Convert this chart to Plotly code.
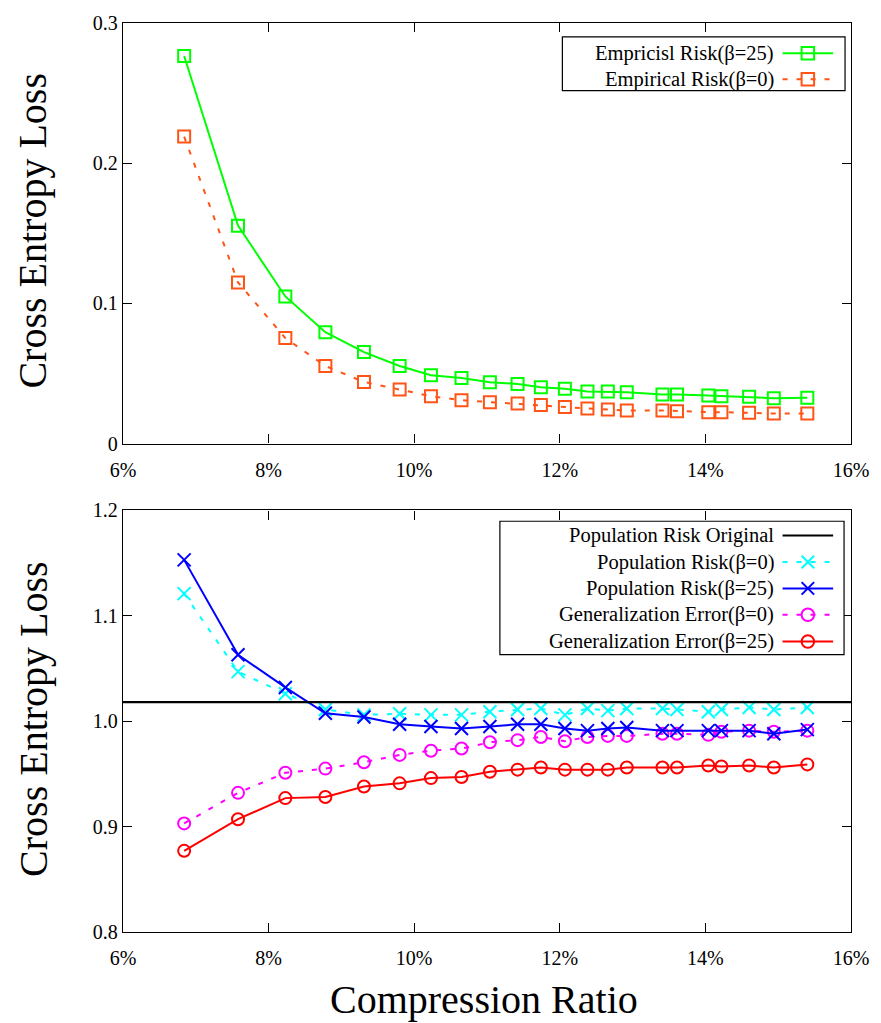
import plotly.graph_objects as go

# ---------------- data ----------------
compression_pct = [6.84, 7.58, 8.23, 8.78, 9.31, 9.80, 10.23, 10.65, 11.04, 11.42, 11.74,
                   12.07, 12.38, 12.66, 12.92, 13.41, 13.61, 14.04, 14.22, 14.60, 14.94, 15.40]

emp_risk_b25 = [0.2765, 0.1555, 0.105, 0.0795, 0.0653, 0.0554, 0.0488, 0.0469, 0.0438, 0.0426, 0.0403,
                0.0391, 0.0372, 0.0372, 0.0367, 0.0350, 0.0350, 0.0343, 0.0339, 0.0334, 0.0324, 0.0327]
emp_risk_b0 = [0.219, 0.115, 0.0753, 0.0554, 0.0440, 0.0386, 0.0339, 0.0310, 0.0296, 0.0286, 0.0275,
               0.0261, 0.0251, 0.0244, 0.0236, 0.0237, 0.0232, 0.0225, 0.0225, 0.0220, 0.0215, 0.0215]

pop_risk_original = 1.018
pop_risk_b0 = [1.121, 1.047, 1.026, 1.011, 1.006, 1.007, 1.006, 1.006, 1.009, 1.011, 1.012,
               1.006, 1.012, 1.010, 1.012, 1.012, 1.011, 1.009, 1.011, 1.013, 1.011, 1.013]
pop_risk_b25 = [1.153, 1.063, 1.032, 1.0075, 1.004, 0.997, 0.995, 0.993, 0.995, 0.997, 0.997,
                0.993, 0.991, 0.993, 0.994, 0.991, 0.991, 0.991, 0.991, 0.991, 0.988, 0.992]
gen_err_b0 = [0.903, 0.932, 0.951, 0.955, 0.961, 0.968, 0.972, 0.974, 0.980, 0.982, 0.985,
              0.981, 0.985, 0.986, 0.986, 0.988, 0.988, 0.987, 0.990, 0.991, 0.990, 0.991]
gen_err_b25 = [0.877, 0.907, 0.927, 0.928, 0.938, 0.941, 0.946, 0.947, 0.952, 0.954, 0.956,
               0.954, 0.954, 0.954, 0.956, 0.956, 0.956, 0.958, 0.957, 0.958, 0.956, 0.959]

x_ticks = [6, 8, 10, 12, 14, 16]
x_tick_labels = ["6%", "8%", "10%", "12%", "14%", "16%"]
top_y_ticks = [0, 0.1, 0.2, 0.3]
top_y_labels = ["0", "0.1", "0.2", "0.3"]
bot_y_ticks = [0.8, 0.9, 1.0, 1.1, 1.2]
bot_y_labels = ["0.8", "0.9", "1.0", "1.1", "1.2"]

top_names = ["Empricisl Risk(β=25)", "Empirical Risk(β=0)"]
bot_names = ["Population Risk Original", "Population Risk(β=0)", "Population Risk(β=25)",
             "Generalization Error(β=0)", "Generalization Error(β=25)"]

# ---------------- style ----------------
GREEN = "#00ff00"
ORANGE = "#ff5416"
CYAN = "#00ffff"
BLUE = "#0000ff"
MAGENTA = "#ff00ff"
RED = "#ff0000"
DASH = "5px,9px"
FONT = "Liberation Serif, Times New Roman, serif"

W, H = 881, 1023
ML, MR, MT, MB = 123, 24, 18, 91
PW, PH = W - ML - MR, H - MT - MB


def px(x):
    return (x - ML) / PW


def py(y):
    return (H - MB - y) / PH


fig = go.Figure()


def add_series(x, y, color, dash, symbol, size, xa, ya, name):
    fig.add_trace(go.Scatter(
        x=x, y=y, mode="lines+markers", name=name, showlegend=False,
        xaxis=xa, yaxis=ya,
        line=dict(color=color, width=2, dash=dash),
        marker=dict(symbol=symbol, size=size, color=color,
                    line=dict(color=color, width=2)),
    ))


add_series(compression_pct, emp_risk_b0, ORANGE, DASH, "square-open", 12, "x", "y", top_names[1])
add_series(compression_pct, emp_risk_b25, GREEN, "solid", "square-open", 12, "x", "y", top_names[0])

add_series(compression_pct, gen_err_b0, MAGENTA, DASH, "circle-open", 12, "x2", "y2", bot_names[3])
add_series(compression_pct, gen_err_b25, RED, "solid", "circle-open", 12, "x2", "y2", bot_names[4])
add_series(compression_pct, pop_risk_b0, CYAN, DASH, "x-thin-open", 13, "x2", "y2", bot_names[1])
add_series(compression_pct, pop_risk_b25, BLUE, "solid", "x-thin-open", 13, "x2", "y2", bot_names[2])

fig.add_shape(type="line", xref="x2 domain", yref="y2", x0=0, x1=1,
              y0=pop_risk_original, y1=pop_risk_original,
              line=dict(color="black", width=2.2), layer="above")

axis_common = dict(
    showline=True, linecolor="black", linewidth=1.4, mirror="allticks",
    ticks="inside", ticklen=9, tickwidth=1.2, tickcolor="black",
    showgrid=False, zeroline=False,
    tickfont=dict(family=FONT, size=20, color="black"),
)

top_dom = [py(441), 1.0]
bot_dom = [0.0, py(508)]

fig.update_layout(
    width=W, height=H, autosize=False,
    margin=dict(l=ML, r=MR, t=MT, b=MB),
    paper_bgcolor="white", plot_bgcolor="white",
    showlegend=False,
    font=dict(family=FONT, color="black"),
    xaxis=dict(domain=[0, 1], anchor="y", range=[6, 16], tickmode="array", tickvals=x_ticks,
               ticktext=x_tick_labels, ticklabelstandoff=8, **axis_common),
    yaxis=dict(domain=top_dom, anchor="x", range=[0, 0.3], tickmode="array", tickvals=top_y_ticks,
               ticktext=top_y_labels, **axis_common),
    xaxis2=dict(domain=[0, 1], anchor="y2", range=[6, 16], tickmode="array", tickvals=x_ticks,
                ticktext=x_tick_labels, ticklabelstandoff=8, **axis_common),
    yaxis2=dict(domain=bot_dom, anchor="x2", range=[0.8, 1.2], tickmode="array", tickvals=bot_y_ticks,
                ticktext=bot_y_labels, **axis_common),
)

# axis titles
TITLE_SIZE = 40
fig.add_annotation(text="Cross Entropy Loss", xref="paper", yref="paper",
                   x=px(32), y=py(227), textangle=-90, showarrow=False,
                   xanchor="center", yanchor="middle",
                   font=dict(family=FONT, size=TITLE_SIZE, color="black"))
fig.add_annotation(text="Cross Entropy Loss", xref="paper", yref="paper",
                   x=px(32), y=py(718), textangle=-90, showarrow=False,
                   xanchor="center", yanchor="middle",
                   font=dict(family=FONT, size=TITLE_SIZE, color="black"))
fig.add_annotation(text="Compression Ratio", xref="paper", yref="paper",
                   x=px(487), y=py(1000), showarrow=False,
                   xanchor="center", yanchor="middle",
                   font=dict(family=FONT, size=TITLE_SIZE, color="black"))


# ---------------- manual legends (gnuplot style: text left, sample right) ----------------
def legend_box(x0, y0, x1, y1):
    fig.add_shape(type="rect", xref="paper", yref="paper",
                  x0=px(x0), x1=px(x1), y0=py(y1), y1=py(y0),
                  line=dict(color="black", width=1.2), fillcolor="white", layer="above")


def legend_entry(row_y, text, color, dash, marker):
    fig.add_annotation(text=text, xref="paper", yref="paper", x=px(781), y=py(row_y),
                       xanchor="right", yanchor="middle", showarrow=False,
                       font=dict(family=FONT, size=20.5, color="black"))
    fig.add_shape(type="line", xref="paper", yref="paper",
                  x0=px(788), x1=px(839), y0=py(row_y), y1=py(row_y),
                  line=dict(color=color, width=2, dash=dash), layer="above")
    cx, r = 813.5, 6.3
    if marker == "square":
        fig.add_shape(type="rect", xref="paper", yref="paper",
                      x0=px(cx - r), x1=px(cx + r), y0=py(row_y + r), y1=py(row_y - r),
                      line=dict(color=color, width=2), layer="above")
    elif marker == "circle":
        fig.add_shape(type="circle", xref="paper", yref="paper",
                      x0=px(cx - r), x1=px(cx + r), y0=py(row_y + r), y1=py(row_y - r),
                      line=dict(color=color, width=2), layer="above")
    elif marker == "x":
        for s in (1, -1):
            fig.add_shape(type="line", xref="paper", yref="paper",
                          x0=px(cx - r), x1=px(cx + r),
                          y0=py(row_y - s * r), y1=py(row_y + s * r),
                          line=dict(color=color, width=2), layer="above")


legend_box(566, 32, 851, 86)
legend_entry(48.5, top_names[0], GREEN, "solid", "square")
legend_entry(74.5, top_names[1], ORANGE, DASH, "square")

legend_box(503, 519, 850, 653)
legend_entry(533.3, bot_names[0], "black", "solid", None)
legend_entry(560, bot_names[1], CYAN, DASH, "x")
legend_entry(586.5, bot_names[2], BLUE, "solid", "x")
legend_entry(613, bot_names[3], MAGENTA, DASH, "circle")
legend_entry(640, bot_names[4], RED, "solid", "circle")

fig.write_html("out.html")
